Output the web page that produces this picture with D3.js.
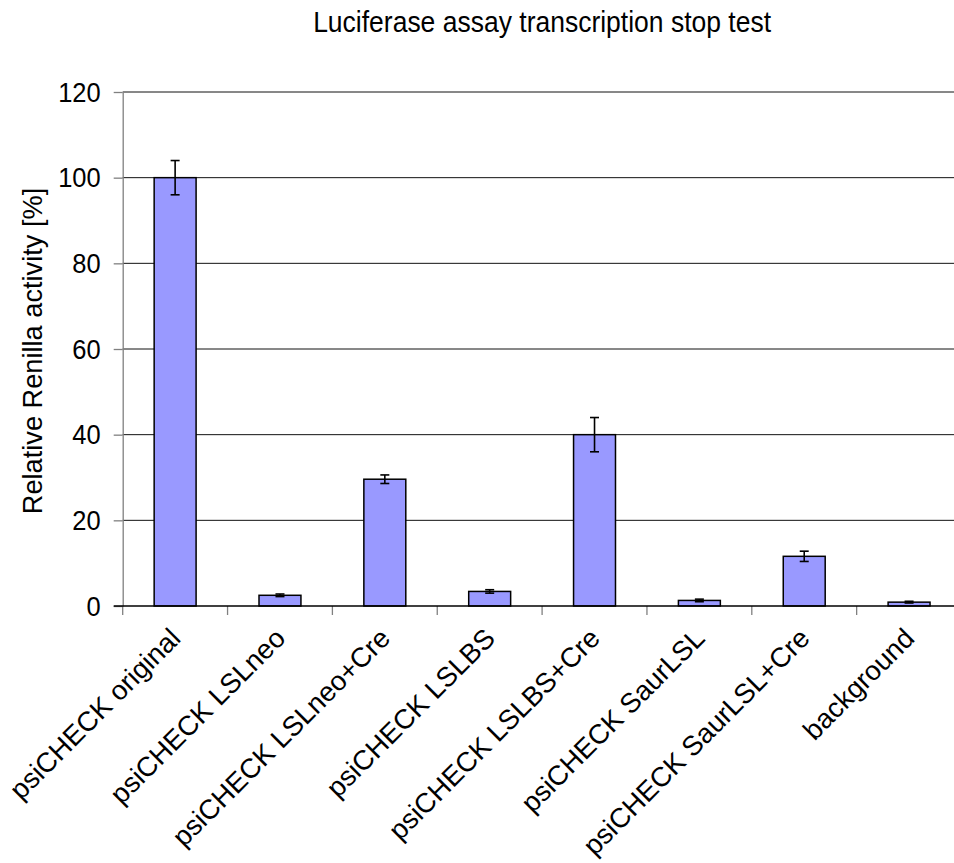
<!DOCTYPE html>
<html>
<head>
<meta charset="utf-8">
<script src="https://cdn.jsdelivr.net/npm/d3@7"></script>
<style>
  body { margin: 0; background: white; }
  text { font-family: "Liberation Sans", Arial, sans-serif; fill: #000; }
</style>
</head>
<body>
<div id="container"></div>
<script>
/* CONSTANTS AND GLOBALS */
const width = 954;
const height = 863;
const margin = { left: 122.7, right: 961.5, top: 92, bottom: 606 };

/* DATA */
const categories = [
  "psiCHECK original", "psiCHECK LSLneo", "psiCHECK LSLneo+Cre", "psiCHECK LSLBS",
  "psiCHECK LSLBS+Cre", "psiCHECK SaurLSL", "psiCHECK SaurLSL+Cre", "background"
];
const values = [100, 2.5, 29.6, 3.4, 40.0, 1.3, 11.6, 0.9];
const errors = [4.0, 0.3, 1.0, 0.4, 4.0, 0.3, 1.2, 0.2];
const yTicks = [0, 20, 40, 60, 80, 100, 120];

const data = categories.map((c, i) => ({ cat: c, value: values[i], err: errors[i] }));

const svg = d3.select("#container")
  .append("svg")
  .attr("width", width)
  .attr("height", height)
  .style("background-color", "white");

/* SCALES */
const xScale = d3.scaleBand()
  .domain(categories)
  .range([margin.left, margin.right])
  .paddingInner(0.6)
  .paddingOuter(0.3);

const yScale = d3.scaleLinear()
  .domain([0, 120])
  .range([margin.bottom, margin.top]);

/* GRIDLINES */
svg.selectAll(".grid")
  .data(yTicks.filter(d => d > 0))
  .join("line")
  .attr("class", "grid")
  .attr("x1", margin.left)
  .attr("x2", width)
  .attr("y1", d => yScale(d))
  .attr("y2", d => yScale(d))
  .attr("stroke", "#111")
  .attr("stroke-width", 1);

/* BARS */
svg.selectAll(".bar")
  .data(data)
  .join("rect")
  .attr("class", "bar")
  .attr("x", d => xScale(d.cat))
  .attr("y", d => yScale(d.value))
  .attr("width", xScale.bandwidth())
  .attr("height", d => yScale(0) - yScale(d.value))
  .attr("fill", "#9999ff")
  .attr("stroke", "#000")
  .attr("stroke-width", 1.5);

/* ERROR BARS */
const cx = d => xScale(d.cat) + xScale.bandwidth() / 2;
const err = svg.append("g").attr("stroke", "#000").attr("stroke-width", 1.6);
err.selectAll(".ev")
  .data(data)
  .join("line")
  .attr("x1", cx).attr("x2", cx)
  .attr("y1", d => yScale(d.value + d.err))
  .attr("y2", d => yScale(d.value - d.err));
err.selectAll(".top")
  .data(data)
  .join("line")
  .attr("x1", d => cx(d) - 4.5).attr("x2", d => cx(d) + 4.5)
  .attr("y1", d => yScale(d.value + d.err))
  .attr("y2", d => yScale(d.value + d.err));
err.selectAll(".bot")
  .data(data)
  .join("line")
  .attr("x1", d => cx(d) - 4.5).attr("x2", d => cx(d) + 4.5)
  .attr("y1", d => yScale(d.value - d.err))
  .attr("y2", d => yScale(d.value - d.err));

/* AXES */
const yAxis = svg.append("g")
  .attr("transform", `translate(${margin.left},0)`)
  .call(d3.axisLeft(yScale).tickValues(yTicks).tickSize(9).tickSizeOuter(0).tickPadding(13));
yAxis.select(".domain").attr("stroke", "#808080").attr("stroke-width", 1.3);
yAxis.selectAll(".tick line").attr("stroke", "#808080").attr("stroke-width", 1.3);
yAxis.selectAll(".tick text")
  .style("font-size", "25.5px")
  .attr("transform", "scale(1,1.08)")
  .attr("y", 0)
  .attr("dy", "0.33em");

// tick marks between categories on the x axis
const boundaries = categories.map((c, i) => margin.left + i * xScale.step()).concat([margin.right]);
svg.selectAll(".xtick")
  .data(boundaries)
  .join("line")
  .attr("class", "xtick")
  .attr("x1", d => d).attr("x2", d => d)
  .attr("y1", margin.bottom).attr("y2", margin.bottom + 9)
  .attr("stroke", "#808080")
  .attr("stroke-width", 1.3);

svg.append("line")
  .attr("x1", margin.left - 9).attr("x2", width)
  .attr("y1", margin.bottom).attr("y2", margin.bottom)
  .attr("stroke", "#000")
  .attr("stroke-width", 1.3);

// rotated category labels
svg.selectAll(".xlabel")
  .data(categories)
  .join("text")
  .attr("class", "xlabel")
  .attr("text-anchor", "end")
  .attr("dy", "0.72em")
  .attr("transform", d => `translate(${xScale(d) + xScale.bandwidth() / 2 - 7},626) rotate(-45)`)
  .style("font-size", "27.5px")
  .text(d => d);

/* TITLES */
svg.append("text")
  .attr("transform", `translate(${(margin.left + margin.right) / 2},32) scale(1,1.12)`)
  .attr("text-anchor", "middle")
  .style("font-size", "26.5px")
  .text("Luciferase assay transcription stop test");

svg.append("text")
  .attr("transform", `translate(42,${(margin.top + margin.bottom) / 2 + 2}) rotate(-90)`)
  .attr("text-anchor", "middle")
  .style("font-size", "27.2px")
  .text("Relative Renilla activity [%]");
</script>
</body>
</html>
